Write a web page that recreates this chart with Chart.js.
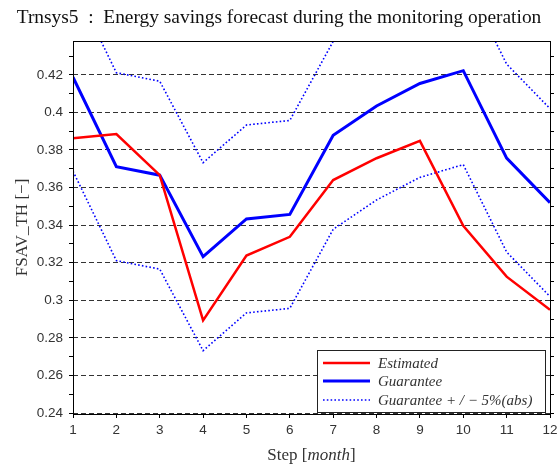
<!DOCTYPE html>
<html>
<head>
<meta charset="utf-8">
<script src="https://cdn.jsdelivr.net/npm/chart.js@4.4.1/dist/chart.umd.min.js"></script>
<style>
  html, body { margin: 0; padding: 0; background: #fff; }
</style>
</head>
<body>
<canvas id="chart" width="558" height="467"></canvas>
<script>
// step [month]
const months = [1, 2, 3, 4, 5, 6, 7, 8, 9, 10, 11, 12];
// FSAV_TH values
const estimated = [0.3862, 0.3885, 0.3666, 0.2893, 0.3238, 0.3338, 0.3640, 0.3756, 0.3848, 0.3397, 0.3126, 0.2950];
const guarantee = [0.4187, 0.3711, 0.3666, 0.3232, 0.3433, 0.3457, 0.3878, 0.4034, 0.4154, 0.4222, 0.3757, 0.3520];
const guaranteeUpper = [0.4687, 0.4211, 0.4166, 0.3732, 0.3933, 0.3957, 0.4378, 0.4534, 0.4654, 0.4722, 0.4257, 0.4020];
const guaranteeLower = [0.3687, 0.3211, 0.3166, 0.2732, 0.2933, 0.2957, 0.3378, 0.3534, 0.3654, 0.3722, 0.3257, 0.3020];
// y ticks: majors get a label + dashed grid line, minors only a tick mark
const yMajorTicks = [0.24, 0.26, 0.28, 0.3, 0.32, 0.34, 0.36, 0.38, 0.4, 0.42];
const yMinorTicks = [0.25, 0.27, 0.29, 0.31, 0.33, 0.35, 0.37, 0.39, 0.41, 0.43];

const Y_MIN = 0.2395;
const Y_MAX = 0.438;

const isMajor = v => yMajorTicks.some(m => Math.abs(m - v) < 1e-6);
const allTicks = () => yMajorTicks.concat(yMinorTicks).sort((a, b) => a - b).map(v => ({ value: v }));

const SERIF = "'Liberation Serif', 'DejaVu Serif', serif";
const SANS = "'Liberation Sans', Arial, sans-serif";

// box around the plot area
const framePlugin = {
    id: 'frame',
    afterDatasetsDraw(chart) {
        const { ctx, chartArea: a } = chart;
        ctx.save();
        ctx.strokeStyle = '#000';
        ctx.lineWidth = 1;
        ctx.strokeRect(Math.round(a.left) + 0.5, Math.round(a.top) + 0.5,
            Math.round(a.right - a.left), Math.round(a.bottom - a.top));
        ctx.restore();
    }
};

// legend box in the lower right corner of the plot
const legendBox = {
    id: 'legendBox',
    afterDraw(chart) {
        const { ctx, chartArea: a } = chart;
        const x0 = a.right - 233, y0 = a.bottom - 64, w = 228, h = 62;
        ctx.save();
        ctx.fillStyle = '#fff';
        ctx.fillRect(x0, y0, w, h);
        ctx.strokeStyle = '#222';
        ctx.lineWidth = 1;
        ctx.strokeRect(Math.round(x0) + 0.5, Math.round(y0) + 0.5, w, h);
        const rows = [13, 31, 50];
        chart.data.datasets.filter(d => d.legend).forEach((d, i) => {
            const y = y0 + rows[i];
            ctx.beginPath();
            ctx.strokeStyle = d.borderColor;
            ctx.lineWidth = d.borderWidth;
            ctx.setLineDash(d.borderDash || []);
            ctx.moveTo(x0 + 6, y);
            ctx.lineTo(x0 + 53, y);
            ctx.stroke();
            ctx.setLineDash([]);
            ctx.fillStyle = '#333';
            ctx.font = 'italic 15px ' + SERIF;
            ctx.textBaseline = 'middle';
            ctx.fillText(d.label, x0 + 61, y + 1);
        });
        ctx.restore();
    }
};

// x axis title with an italic unit
const xTitle = {
    id: 'xTitle',
    afterDraw(chart) {
        const { ctx, chartArea: a } = chart;
        const parts = [['Step [', '17px '], ['month', 'italic 17px '], [']', '17px ']];
        ctx.save();
        ctx.fillStyle = '#333';
        ctx.textBaseline = 'middle';
        let total = 0;
        parts.forEach(p => { ctx.font = p[1] + SERIF; total += ctx.measureText(p[0]).width; });
        let x = (a.left + a.right) / 2 - total / 2;
        parts.forEach(p => {
            ctx.font = p[1] + SERIF;
            ctx.fillText(p[0], x, 456);
            x += ctx.measureText(p[0]).width;
        });
        ctx.restore();
    }
};

const ctx = document.getElementById('chart').getContext('2d');
new Chart(ctx, {
    type: 'line',
    data: {
        labels: months,
        datasets: [
            { label: 'Estimated', data: estimated, borderColor: '#ff0000', borderWidth: 2.5, legend: true },
            { label: 'Guarantee', data: guarantee, borderColor: '#0000ff', borderWidth: 3, legend: true },
            { label: 'Guarantee + / \u2212 5%(abs)', data: guaranteeUpper, borderColor: '#0000ff', borderWidth: 1.6, borderDash: [1.6, 2.2], legend: true },
            { label: 'lower', data: guaranteeLower, borderColor: '#0000ff', borderWidth: 1.6, borderDash: [1.6, 2.2] }
        ]
    },
    options: {
        responsive: false,
        animation: false,
        devicePixelRatio: 1,
        layout: { padding: 0 },
        elements: {
            point: { radius: 0 },
            line: { tension: 0, fill: false }
        },
        datasets: { line: { clip: 0 } },
        plugins: {
            legend: { display: false },
            tooltip: { enabled: false },
            title: {
                display: true,
                text: 'Trnsys5  :  Energy savings forecast during the monitoring operation',
                color: '#111',
                font: { family: SERIF, size: 19.4, weight: 'normal' },
                padding: { top: 6, bottom: 11.7 }
            }
        },
        scales: {
            x: {
                grid: { display: true, drawOnChartArea: false, tickLength: 4, tickColor: '#000' },
                border: { display: false },
                ticks: { color: '#333', font: { family: SANS, size: 13.5 }, padding: 4, maxRotation: 0, autoSkip: false },
                afterFit: s => { s.height = 53; s.paddingLeft = 0; s.paddingRight = 0; }
            },
            y: {
                min: Y_MIN,
                max: Y_MAX,
                afterBuildTicks: s => { s.ticks = allTicks(); },
                grid: {
                    color: c => isMajor(c.tick.value) ? '#333' : 'rgba(0,0,0,0)',
                    tickColor: '#000',
                    tickLength: 4,
                    lineWidth: 1
                },
                border: { display: false, dash: [5, 3] },
                ticks: {
                    color: '#333',
                    font: { family: SANS, size: 13.5 },
                    padding: 6,
                    autoSkip: false,
                    callback: v => isMajor(v) ? String(Number(v.toFixed(2))) : ''
                },
                title: {
                    display: true,
                    text: 'FSAV_TH [\u2212]',
                    color: '#333',
                    font: { family: SERIF, size: 17 },
                    padding: { top: 12, bottom: 0 }
                },
                afterFit: s => { s.width = 73; }
            },
            y2: {
                position: 'right',
                min: Y_MIN,
                max: Y_MAX,
                afterBuildTicks: s => { s.ticks = allTicks(); },
                grid: { drawOnChartArea: false, tickColor: '#000', tickLength: 4 },
                border: { display: false },
                ticks: { display: false },
                afterFit: s => { s.width = 8; s.paddingTop = 0; s.paddingBottom = 0; }
            }
        }
    },
    plugins: [framePlugin, legendBox, xTitle]
});
</script>
</body>
</html>
